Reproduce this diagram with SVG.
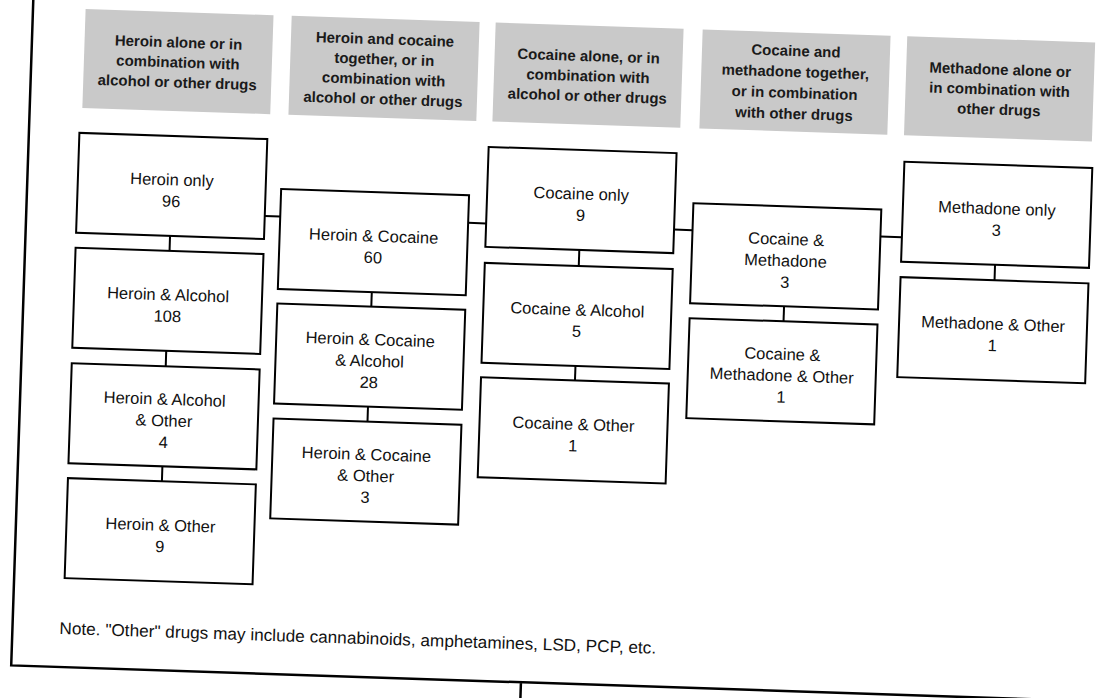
<svg xmlns="http://www.w3.org/2000/svg" width="1096" height="698" viewBox="0 0 1096 698">
<style>
.hdr rect{fill:#c9c9c9;stroke:none}
.hdr text{font-family:"Liberation Sans",Arial,sans-serif;font-weight:bold;font-size:15px;text-anchor:middle;fill:#1a1a1a}
.box rect{fill:#fff;stroke:#000;stroke-width:2}
.box text{font-family:"Liberation Sans",Arial,sans-serif;font-size:16.5px;text-anchor:middle;fill:#111}
.conn line{stroke:#000;stroke-width:2}
.frame{stroke:#000;stroke-width:2.5;fill:none}
.note{font-family:"Liberation Sans",Arial,sans-serif;font-size:17px;fill:#111}
</style>
<rect width="1096" height="698" fill="#fff"/>
<g transform="rotate(1.9 548 349)">
<path class="frame" d="M22,-30 V683 H1130 M532,683 V740"/>

<g id="h1" class="hdr"><rect x="74.6" y="24.5" width="188" height="99"/>
<text x="168.6" y="60">Heroin alone or in</text><text x="168.6" y="80">combination with</text><text x="168.6" y="100">alcohol or other drugs</text></g>
<g id="h2" class="hdr"><rect x="280.8" y="24.5" width="188" height="99"/>
<text x="374.8" y="50">Heroin and cocaine</text><text x="374.8" y="70">together, or in</text><text x="374.8" y="90">combination with</text><text x="374.8" y="110">alcohol or other drugs</text></g>
<g id="h3" class="hdr"><rect x="484.9" y="24.5" width="188" height="99"/>
<text x="578.9" y="60">Cocaine alone, or in</text><text x="578.9" y="80">combination with</text><text x="578.9" y="100">alcohol or other drugs</text></g>
<g id="h4" class="hdr"><rect x="692" y="24.5" width="188" height="99"/>
<text x="786" y="48">Cocaine and</text><text x="786" y="69">methadone together,</text><text x="786" y="90">or in combination</text><text x="786" y="111">with other drugs</text></g>
<g id="h5" class="hdr"><rect x="896.7" y="24.5" width="188" height="99"/>
<text x="990.7" y="60">Methadone alone or</text><text x="990.7" y="80">in combination with</text><text x="990.7" y="100">other drugs</text></g>

<g class="conn">
<line x1="166.5" y1="248.5" x2="166.5" y2="263.5"/>
<line x1="166.5" y1="363.5" x2="166.5" y2="379"/>
<line x1="166.5" y1="479" x2="166.5" y2="494"/>
<line x1="370" y1="298" x2="370" y2="312.5"/>
<line x1="370" y1="412.5" x2="370" y2="427.5"/>
<line x1="576" y1="249" x2="576" y2="265"/>
<line x1="576" y1="365" x2="576" y2="379.5"/>
<line x1="782.5" y1="298.5" x2="782.5" y2="313.5"/>
<line x1="992" y1="250" x2="992" y2="265.5"/>
<line x1="260.5" y1="225.5" x2="276" y2="225.5"/>
<line x1="464" y1="225.5" x2="482" y2="225.5"/>
<line x1="670" y1="225.5" x2="688.5" y2="225.5"/>
<line x1="876.5" y1="225.5" x2="898" y2="225.5"/>
</g>

<g id="n1" class="box"><rect x="72.5" y="148.5" width="188" height="100"/><text x="166.5" y="198">Heroin only</text><text x="166.5" y="219.5">96</text></g>
<g id="n2" class="box"><rect x="72.5" y="263.5" width="188" height="100"/><text x="166.5" y="313">Heroin &amp; Alcohol</text><text x="166.5" y="334.5">108</text></g>
<g id="n3" class="box"><rect x="72.5" y="379" width="188" height="100"/><text x="166.5" y="417.5">Heroin &amp; Alcohol</text><text x="166.5" y="439">&amp; Other</text><text x="166.5" y="460.5">4</text></g>
<g id="n4" class="box"><rect x="72.5" y="494" width="188" height="100"/><text x="166.5" y="543.5">Heroin &amp; Other</text><text x="166.5" y="565">9</text></g>

<g id="n5" class="box"><rect x="276" y="198" width="188" height="100"/><text x="370" y="247.5">Heroin &amp; Cocaine</text><text x="370" y="269">60</text></g>
<g id="n6" class="box"><rect x="276" y="312.5" width="188" height="100"/><text x="370" y="351">Heroin &amp; Cocaine</text><text x="370" y="372.5">&amp; Alcohol</text><text x="370" y="394">28</text></g>
<g id="n7" class="box"><rect x="276" y="427.5" width="188" height="100"/><text x="370" y="466">Heroin &amp; Cocaine</text><text x="370" y="487.5">&amp; Other</text><text x="370" y="509">3</text></g>

<g id="n8" class="box"><rect x="482" y="149" width="188" height="100"/><text x="576" y="198.5">Cocaine only</text><text x="576" y="220">9</text></g>
<g id="n9" class="box"><rect x="482" y="265" width="188" height="100"/><text x="576" y="314.5">Cocaine &amp; Alcohol</text><text x="576" y="336">5</text></g>
<g id="n10" class="box"><rect x="482" y="379.5" width="188" height="100"/><text x="576" y="429">Cocaine &amp; Other</text><text x="576" y="450.5">1</text></g>

<g id="n11" class="box"><rect x="688.5" y="198.5" width="188" height="100"/><text x="782.5" y="237">Cocaine &amp;</text><text x="782.5" y="258.5">Methadone</text><text x="782.5" y="280">3</text></g>
<g id="n12" class="box"><rect x="688.5" y="313.5" width="188" height="100"/><text x="782.5" y="352">Cocaine &amp;</text><text x="782.5" y="373.5">Methadone &amp; Other</text><text x="782.5" y="395">1</text></g>

<g id="n13" class="box"><rect x="898" y="150" width="188" height="100"/><text x="992" y="199.5">Methadone only</text><text x="992" y="221">3</text></g>
<g id="n14" class="box"><rect x="898" y="265.5" width="188" height="100"/><text x="992" y="315">Methadone &amp; Other</text><text x="992" y="336.5">1</text></g>

<text class="note" x="69" y="650" textLength="597" lengthAdjust="spacingAndGlyphs">Note. "Other" drugs may include cannabinoids, amphetamines, LSD, PCP, etc.</text>
</g>
</svg>
